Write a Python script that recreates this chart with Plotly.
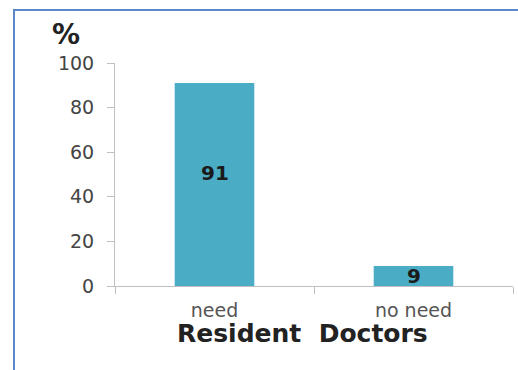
import plotly.graph_objects as go

categories = ["need", "no need"]
values = [91, 9]
y_ticks = [0, 20, 40, 60, 80, 100]

BAR_COLOR = "#4BACC6"
AXIS_COLOR = "#BFBFBF"

# vertical nudge (px) applied to each in-bar value label
label_shift = [12, 0]

L, R, T, B = 115, 5, 63, 84
W, H = 518, 370
pw = W - L - R
ph = H - T - B


def px_x(p):
    return (p - L) / pw


def px_y(p):
    return (H - B - p) / ph


fig = go.Figure()
fig.add_trace(go.Bar(
    x=categories,
    y=values,
    width=0.4,
    marker=dict(color=BAR_COLOR, line=dict(width=0)),
    hoverinfo="skip",
))

annotations = [
    dict(text="<b>%</b>", xref="paper", yref="paper",
         x=px_x(66), y=px_y(34), xanchor="center", yanchor="middle",
         showarrow=False,
         font=dict(family="DejaVu Sans", size=28, color="#222222")),
    dict(text="<b>Resident  Doctors</b>", xref="paper", yref="paper",
         x=px_x(302), y=px_y(333), xanchor="center", yanchor="middle",
         showarrow=False,
         font=dict(family="DejaVu Sans", size=25, color="#222222")),
]
# value labels inside each bar
for c, v, s in zip(categories, values, label_shift):
    annotations.append(dict(
        x=c, y=v / 2, yshift=s, text=f"<b>{v}</b>", showarrow=False,
        xanchor="center", yanchor="middle",
        font=dict(family="DejaVu Sans", size=20, color="#1a1a1a"),
        xref="x", yref="y",
    ))

fig.update_layout(
    width=W, height=H,
    margin=dict(l=L, r=R, t=T, b=B),
    paper_bgcolor="white", plot_bgcolor="white",
    showlegend=False,
    xaxis=dict(
        type="category",
        showline=True, linecolor=AXIS_COLOR, linewidth=1,
        ticks="outside", tickson="boundaries", ticklen=7, tickcolor=AXIS_COLOR,
        ticklabelstandoff=7,
        tickfont=dict(family="DejaVu Sans", size=19, color="#555555"),
        showgrid=False, zeroline=False,
    ),
    yaxis=dict(
        range=[0, 100],
        tickvals=y_ticks,
        showline=True, linecolor=AXIS_COLOR, linewidth=1,
        ticks="outside", ticklen=7, tickcolor=AXIS_COLOR,
        ticklabelstandoff=9,
        tickfont=dict(family="DejaVu Sans", size=19, color="#444444"),
        showgrid=False, zeroline=False,
    ),
    shapes=[dict(
        type="rect", xref="paper", yref="paper",
        x0=px_x(14), x1=px_x(600), y0=px_y(420), y1=px_y(10),
        line=dict(color="#5B87C6", width=2), fillcolor="rgba(0,0,0,0)",
        layer="below",
    )],
    annotations=annotations,
)

fig.write_html("out.html")
